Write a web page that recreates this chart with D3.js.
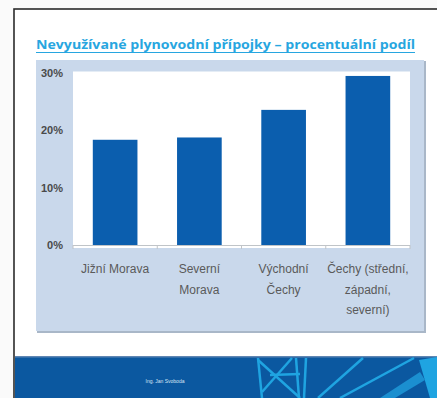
<!DOCTYPE html>
<html>
<head>
<meta charset="utf-8">
<script src="https://cdn.jsdelivr.net/npm/d3@7"></script>
<style>
  html, body { margin: 0; padding: 0; background: #fafafa; }
  svg { display: block; }
</style>
</head>
<body>
<svg id="slide" width="437" height="398"></svg>
<script>
// Share of unused gas service connections by region
const categories = ["Jižní Morava", "Severní Morava", "Východní Čechy", "Čechy (střední, západní, severní)"];
const categoryLines = [
  ["Jižní Morava"],
  ["Severní", "Morava"],
  ["Východní", "Čechy"],
  ["Čechy (střední,", "západní,", "severní)"]
];
const shares = [0.183, 0.187, 0.235, 0.294];
const yTicks = [0, 0.1, 0.2, 0.3];
const title = "Nevyužívané plynovodní přípojky – procentuální podíl";
const footerNote = "Ing. Jan Svoboda";

const svg = d3.select("#slide");

// slide page with its frame
svg.append("rect").attr("x", 14).attr("y", 9).attr("width", 430).attr("height", 400)
  .attr("fill", "#ffffff").attr("stroke", "#2b2b2b").attr("stroke-width", 1.6);

// title
svg.append("text")
  .attr("x", 36).attr("y", 49)
  .attr("textLength", 379).attr("lengthAdjust", "spacingAndGlyphs")
  .attr("font-family", "'Open Sans', sans-serif").attr("font-weight", "bold")
  .attr("font-size", 12).attr("fill", "#27a6e0")
  .text(title);
svg.append("line").attr("x1", 36).attr("x2", 415).attr("y1", 52.5).attr("y2", 52.5)
  .attr("stroke", "#27a6e0").attr("stroke-width", 1);

// chart panel
svg.append("rect").attr("x", 37).attr("y", 61).attr("width", 389).attr("height", 272)
  .attr("fill", "#a9b7c8");
svg.append("rect").attr("x", 36).attr("y", 60).attr("width", 388).attr("height", 271)
  .attr("fill", "#c9d8eb");

const plot = { left: 73, right: 410, top: 72.5, bottom: 245 };
svg.append("rect").attr("x", plot.left).attr("y", plot.top - 1)
  .attr("width", plot.right - plot.left).attr("height", plot.bottom - plot.top + 4)
  .attr("fill", "#ffffff");

const x = d3.scaleBand().domain(categories).range([plot.left, plot.right])
  .paddingInner(0.47).paddingOuter(0.235);
const y = d3.scaleLinear().domain([0, 0.3]).range([plot.bottom, plot.top]);

// bars
svg.append("g").selectAll("rect").data(categories).join("rect")
  .attr("x", d => x(d))
  .attr("y", (d, i) => y(shares[i]))
  .attr("width", x.bandwidth())
  .attr("height", (d, i) => y(0) - y(shares[i]))
  .attr("fill", "#0b5eae");

// category axis: baseline, boundary ticks and wrapped labels
const gap = x.step() * x.paddingInner();
svg.append("line").attr("x1", plot.left).attr("x2", plot.right)
  .attr("y1", y(0) + 0.5).attr("y2", y(0) + 0.5)
  .attr("stroke", "#c0c4c8").attr("stroke-width", 1);
const bounds = [x(categories[0]) - gap / 2].concat(categories.map(d => x(d) + x.bandwidth() + gap / 2));
svg.append("g").selectAll("line").data(bounds).join("line")
  .attr("x1", d => d).attr("x2", d => d)
  .attr("y1", y(0)).attr("y2", y(0) + 4)
  .attr("stroke", "#c0c4c8");

const xl = svg.append("g").attr("font-family", "'Liberation Sans', Arial, sans-serif")
  .attr("font-size", 12).attr("fill", "#5a5a5a").attr("text-anchor", "middle");
categories.forEach((c, i) => {
  const t = xl.append("text").attr("x", x(c) + x.bandwidth() / 2).attr("y", 273);
  categoryLines[i].forEach((line, k) => {
    t.append("tspan").attr("x", x(c) + x.bandwidth() / 2).attr("dy", k === 0 ? 0 : 20.5).text(line);
  });
});

// value axis labels
const yAxis = d3.axisLeft(y).tickValues(yTicks).tickFormat(d3.format(".0%")).tickSize(0).tickPadding(0);
const ya = svg.append("g").attr("transform", "translate(63,0)").call(yAxis);
ya.select(".domain").remove();
ya.selectAll("text").attr("font-family", "'Liberation Sans', Arial, sans-serif")
  .attr("font-size", 11).attr("fill", "#4a4a4a").attr("font-weight", "bold").attr("dy", "0.35em");

// footer band
svg.append("rect").attr("x", 15).attr("y", 356).attr("width", 422).attr("height", 42).attr("fill", "#0b58a0");
svg.append("rect").attr("x", 15).attr("y", 356).attr("width", 422).attr("height", 1.5).attr("fill", "#5f86b3");
svg.append("text").attr("x", 165).attr("y", 382.5).attr("text-anchor", "middle")
  .attr("font-family", "'Liberation Sans', Arial, sans-serif").attr("font-size", 5)
  .attr("fill", "#d8e6f5").text(footerNote);

// decorative network lines on the footer
const deco = [
  [258, 358, 262, 398], [258, 360, 300, 398], [292, 358, 262, 392],
  [296, 358, 299, 398], [306, 358, 304, 398], [363, 358, 318, 398],
  [414, 358, 340, 398], [270, 375, 300, 374]
];
svg.append("g").selectAll("line").data(deco).join("line")
  .attr("x1", d => d[0]).attr("y1", d => d[1]).attr("x2", d => d[2]).attr("y2", d => d[3])
  .attr("stroke", "#1fa4e1").attr("stroke-width", 2.5);
svg.append("path").attr("d", "M419,360 L437,357 L437,398 L430,398 Z").attr("fill", "#1fa4e1");
svg.append("path").attr("d", "M380,398 L420,372 L425,380 L395,398 Z").attr("fill", "#1b8fd0");
</script>
</body>
</html>
